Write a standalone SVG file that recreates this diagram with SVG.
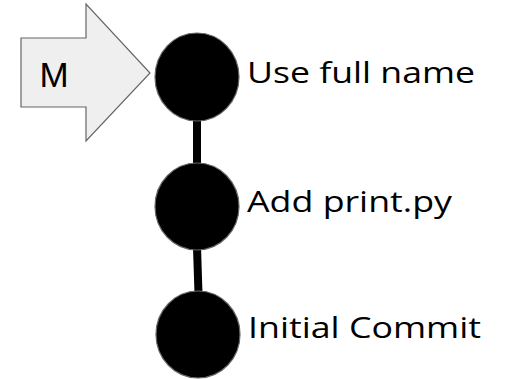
<svg xmlns="http://www.w3.org/2000/svg" width="505" height="379" viewBox="0 0 505 379">
<style>
.commit{fill:#000;stroke:#666;stroke-width:1.2}
.lbl{font-family:"Open Sans","DejaVu Sans",sans-serif;font-size:29px;fill:#000}
.edge{stroke:#000;stroke-width:8;fill:none}
</style>
<rect width="505" height="379" fill="#fff"/>
<g id="connectors">
<line class="edge" x1="197" y1="118" x2="197" y2="166"/>
<line class="edge" x1="197" y1="247" x2="198.5" y2="294"/>
</g>
<g id="branch-M">
<polygon points="21,38 86,38 86,4 150,73 86,141 86,107 21,107" fill="#efefef" stroke="#666" stroke-width="1.2"/>
<text x="54" y="87" text-anchor="middle" font-family="Liberation Sans, Arial, sans-serif" font-size="35" fill="#000">M</text>
</g>
<g id="commit-3">
<ellipse class="commit" cx="197" cy="77" rx="42" ry="44"/>
<text class="lbl" x="247" y="83" textLength="228" lengthAdjust="spacingAndGlyphs">Use full name</text>
</g>
<g id="commit-2">
<ellipse class="commit" cx="197" cy="206.5" rx="42" ry="43.5"/>
<text class="lbl" x="247" y="212" textLength="205" lengthAdjust="spacingAndGlyphs">Add print.py</text>
</g>
<g id="commit-1">
<ellipse class="commit" cx="198" cy="334.5" rx="42" ry="43.5"/>
<text class="lbl" x="248" y="338" textLength="233" lengthAdjust="spacingAndGlyphs">Initial Commit</text>
</g>
</svg>
